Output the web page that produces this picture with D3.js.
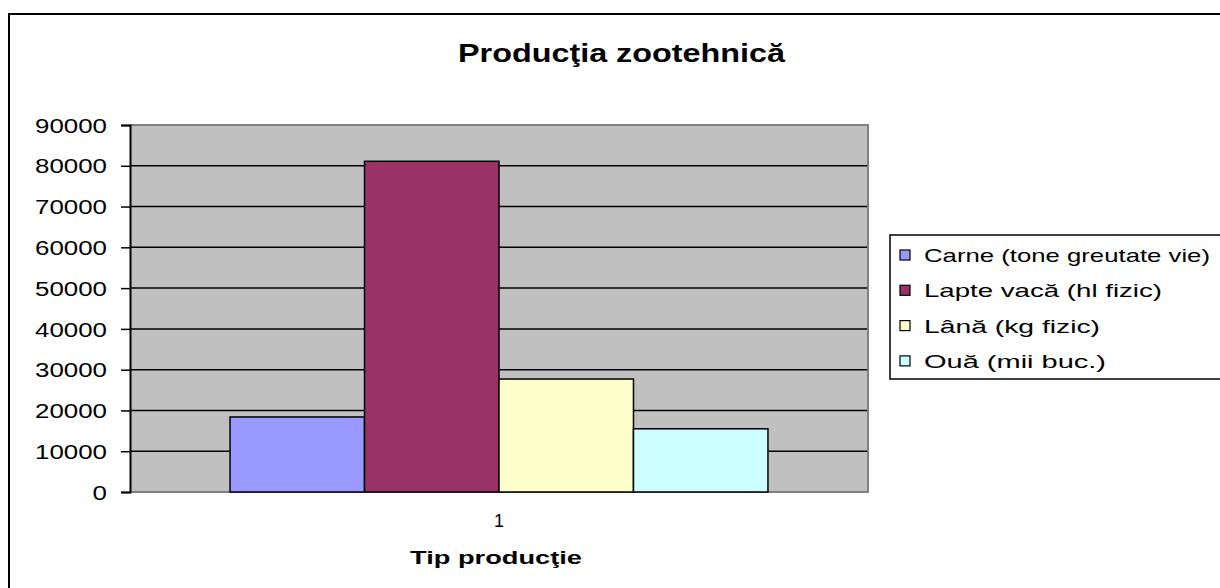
<!DOCTYPE html>
<html>
<head>
<meta charset="utf-8">
<script src="https://cdn.jsdelivr.net/npm/d3@7"></script>
<style>
  body { margin: 0; background: #fff; }
  text { font-family: "Liberation Sans", Arial, sans-serif; fill: #000; }
</style>
</head>
<body>
<svg width="1220" height="588"></svg>
<script>
// data
var categories = ["1"];
var series = ["Carne (tone greutate vie)", "Lapte vacă (hl fizic)", "Lână (kg fizic)", "Ouă (mii buc.)"];
var values = [18400, 81100, 27700, 15500];
var colors = ["#9999FF", "#993366", "#FFFFCC", "#CCFFFF"];
var yTicks = [0, 10000, 20000, 30000, 40000, 50000, 60000, 70000, 80000, 90000];

var svg = d3.select("svg");

// chart frame
svg.append("rect")
	.attr("x", 9).attr("y", 14)
	.attr("width", 1230).attr("height", 600)
	.attr("fill", "#fff")
	.attr("stroke", "#000")
	.attr("stroke-width", 2);

var plotLeft = 130, plotRight = 868, plotTop = 125, plotBottom = 492;

var y = d3.scaleLinear().domain([0, 90000]).range([plotBottom, plotTop]);
var x0 = d3.scaleBand().domain(categories).range([plotLeft, plotRight]).paddingInner(0).paddingOuter(0.186);
var x1 = d3.scaleBand().domain(series).range([0, x0.bandwidth()]);

// plot background
svg.append("rect")
	.attr("x", plotLeft).attr("y", plotTop)
	.attr("width", plotRight - plotLeft).attr("height", plotBottom - plotTop)
	.attr("fill", "#C0C0C0");

// gridlines
svg.append("g").selectAll("line")
	.data(yTicks.slice(1, -1))
	.enter().append("line")
	.attr("x1", plotLeft).attr("x2", plotRight)
	.attr("y1", function (d) { return y(d); })
	.attr("y2", function (d) { return y(d); })
	.attr("stroke", "#000")
	.attr("stroke-width", 1.5);

// plot border (gray)
svg.append("path")
	.attr("d", "M" + plotLeft + "," + plotTop + "H" + plotRight + "V" + plotBottom + "H" + plotLeft)
	.attr("fill", "none")
	.attr("stroke", "#808080")
	.attr("stroke-width", 2);

// bars
svg.append("g").selectAll("g")
	.data(categories)
	.enter().append("g")
	.attr("transform", function (d) { return "translate(" + x0(d) + ",0)"; })
	.selectAll("rect")
	.data(series.map(function (s, i) { return {name: s, value: values[i], color: colors[i]}; }))
	.enter().append("rect")
	.attr("x", function (d) { return x1(d.name); })
	.attr("y", function (d) { return y(d.value); })
	.attr("width", x1.bandwidth())
	.attr("height", function (d) { return plotBottom - y(d.value); })
	.attr("fill", function (d) { return d.color; })
	.attr("stroke", "#000")
	.attr("stroke-width", 1.5);

// y axis
var yAxis = svg.append("g")
	.attr("transform", "translate(" + plotLeft + ",0)")
	.call(d3.axisLeft(y).tickValues(yTicks).tickSize(9).tickPadding(14).tickFormat(d3.format("d")));
yAxis.select(".domain").attr("stroke", "#000").attr("stroke-width", 2);
yAxis.selectAll(".tick line").attr("stroke", "#000").attr("stroke-width", 1.5);
yAxis.selectAll(".tick text")
	.attr("font-size", 20)
	.attr("font-family", "Liberation Sans, Arial, sans-serif")
	.attr("dy", "0.36em")
	.each(function (d) {
		var n = String(d).length;
		d3.select(this).attr("textLength", n * 14.4).attr("lengthAdjust", "spacingAndGlyphs");
	});

// x category label
svg.append("g").selectAll("text")
	.data(categories)
	.enter().append("text")
	.attr("x", function (d) { return x0(d) + x0.bandwidth() / 2; })
	.attr("y", 527)
	.attr("text-anchor", "middle")
	.attr("font-size", 18)
	.text(function (d) { return d; });

// title
svg.append("text")
	.attr("x", 458).attr("y", 62)
	.attr("font-size", 26)
	.attr("font-weight", "bold")
	.attr("textLength", 327)
	.attr("lengthAdjust", "spacingAndGlyphs")
	.text("Producţia zootehnică");

// x axis title
svg.append("text")
	.attr("x", 410).attr("y", 564)
	.attr("font-size", 19)
	.attr("font-weight", "bold")
	.attr("textLength", 172)
	.attr("lengthAdjust", "spacingAndGlyphs")
	.text("Tip producţie");

// legend
var legend = svg.append("g");
legend.append("rect")
	.attr("x", 890).attr("y", 235)
	.attr("width", 340).attr("height", 144)
	.attr("fill", "#fff")
	.attr("stroke", "#000")
	.attr("stroke-width", 1.5);

var legendWidths = [286, 238, 176, 182];
var item = legend.selectAll(".item")
	.data(series)
	.enter().append("g")
	.attr("class", "item")
	.attr("transform", function (d, i) { return "translate(0," + (262 + i * 35.3) + ")"; });

item.append("rect")
	.attr("x", 900).attr("y", -12)
	.attr("width", 10).attr("height", 10)
	.attr("fill", function (d, i) { return colors[i]; })
	.attr("stroke", "#000")
	.attr("stroke-width", 1.2);

item.append("text")
	.attr("x", 924).attr("y", 0)
	.attr("font-size", 19)
	.attr("textLength", function (d, i) { return legendWidths[i]; })
	.attr("lengthAdjust", "spacingAndGlyphs")
	.text(function (d) { return d; });
</script>
</body>
</html>
